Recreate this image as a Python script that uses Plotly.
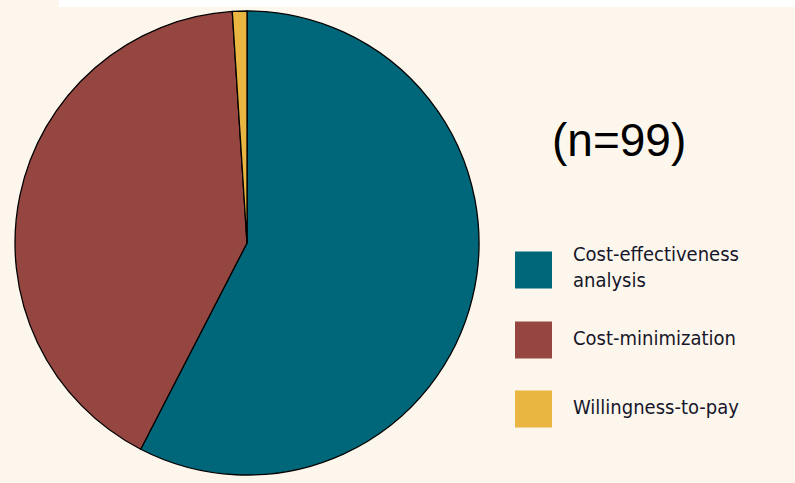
import plotly.graph_objects as go

W, H = 795, 483

categories = ["Cost-effectiveness analysis", "Cost-minimization", "Willingness-to-pay"]
legend_lines = [["Cost-effectiveness", "analysis"], ["Cost-minimization"], ["Willingness-to-pay"]]
values = [57, 41, 1]
colors = ["#00677A", "#964641", "#E8B641"]
note = "(n=99)"

BG = "#FDF6EC"

def px(x):
    return x / W

def py(y):
    return 1 - y / H

fig = go.Figure()
fig.add_trace(go.Pie(
    labels=categories,
    values=values,
    marker=dict(colors=colors, line=dict(color="#000000", width=1.3)),
    sort=False,
    direction="clockwise",
    rotation=0,
    textinfo="none",
    hoverinfo="label+value",
    showlegend=False,
    domain=dict(x=[px(15), px(479)], y=[py(475), py(11)]),
))

shapes = [dict(type="rect", xref="paper", yref="paper",
               x0=px(59), x1=1.0, y0=py(7), y1=1.0,
               fillcolor="#FFFFFF", line=dict(width=0), layer="below")]
annotations = [dict(text=note, xref="paper", yref="paper", x=px(619), y=py(140),
                    xanchor="center", yanchor="middle", showarrow=False,
                    font=dict(family="Liberation Sans, Arial, sans-serif", size=46, color="#000000"))]

square_centers = [270, 340, 409]
sq = 37
for i, (lines, col) in enumerate(zip(legend_lines, colors)):
    cy = square_centers[i]
    shapes.append(dict(type="rect", xref="paper", yref="paper",
                       x0=px(515), x1=px(515 + sq), y0=py(cy + sq / 2), y1=py(cy - sq / 2),
                       fillcolor=col, line=dict(width=0)))
    n = len(lines)
    step = 26
    top = cy - 3 - step * (n - 1) / 2 if n > 1 else cy - 2
    for j, ln in enumerate(lines):
        annotations.append(dict(text=ln, xref="paper", yref="paper",
                                x=px(571), y=py(top + j * step),
                                xanchor="left", yanchor="middle", showarrow=False,
                                font=dict(family="DejaVu Sans Condensed, sans-serif",
                                          size=20, color="#16162A")))

fig.update_layout(
    width=W, height=H,
    margin=dict(l=0, r=0, t=0, b=0),
    paper_bgcolor=BG,
    plot_bgcolor=BG,
    shapes=shapes,
    annotations=annotations,
)

fig.write_html("out.html", config={"displayModeBar": False},
               post_script="document.body.style.margin='0';document.body.style.padding='0';")
